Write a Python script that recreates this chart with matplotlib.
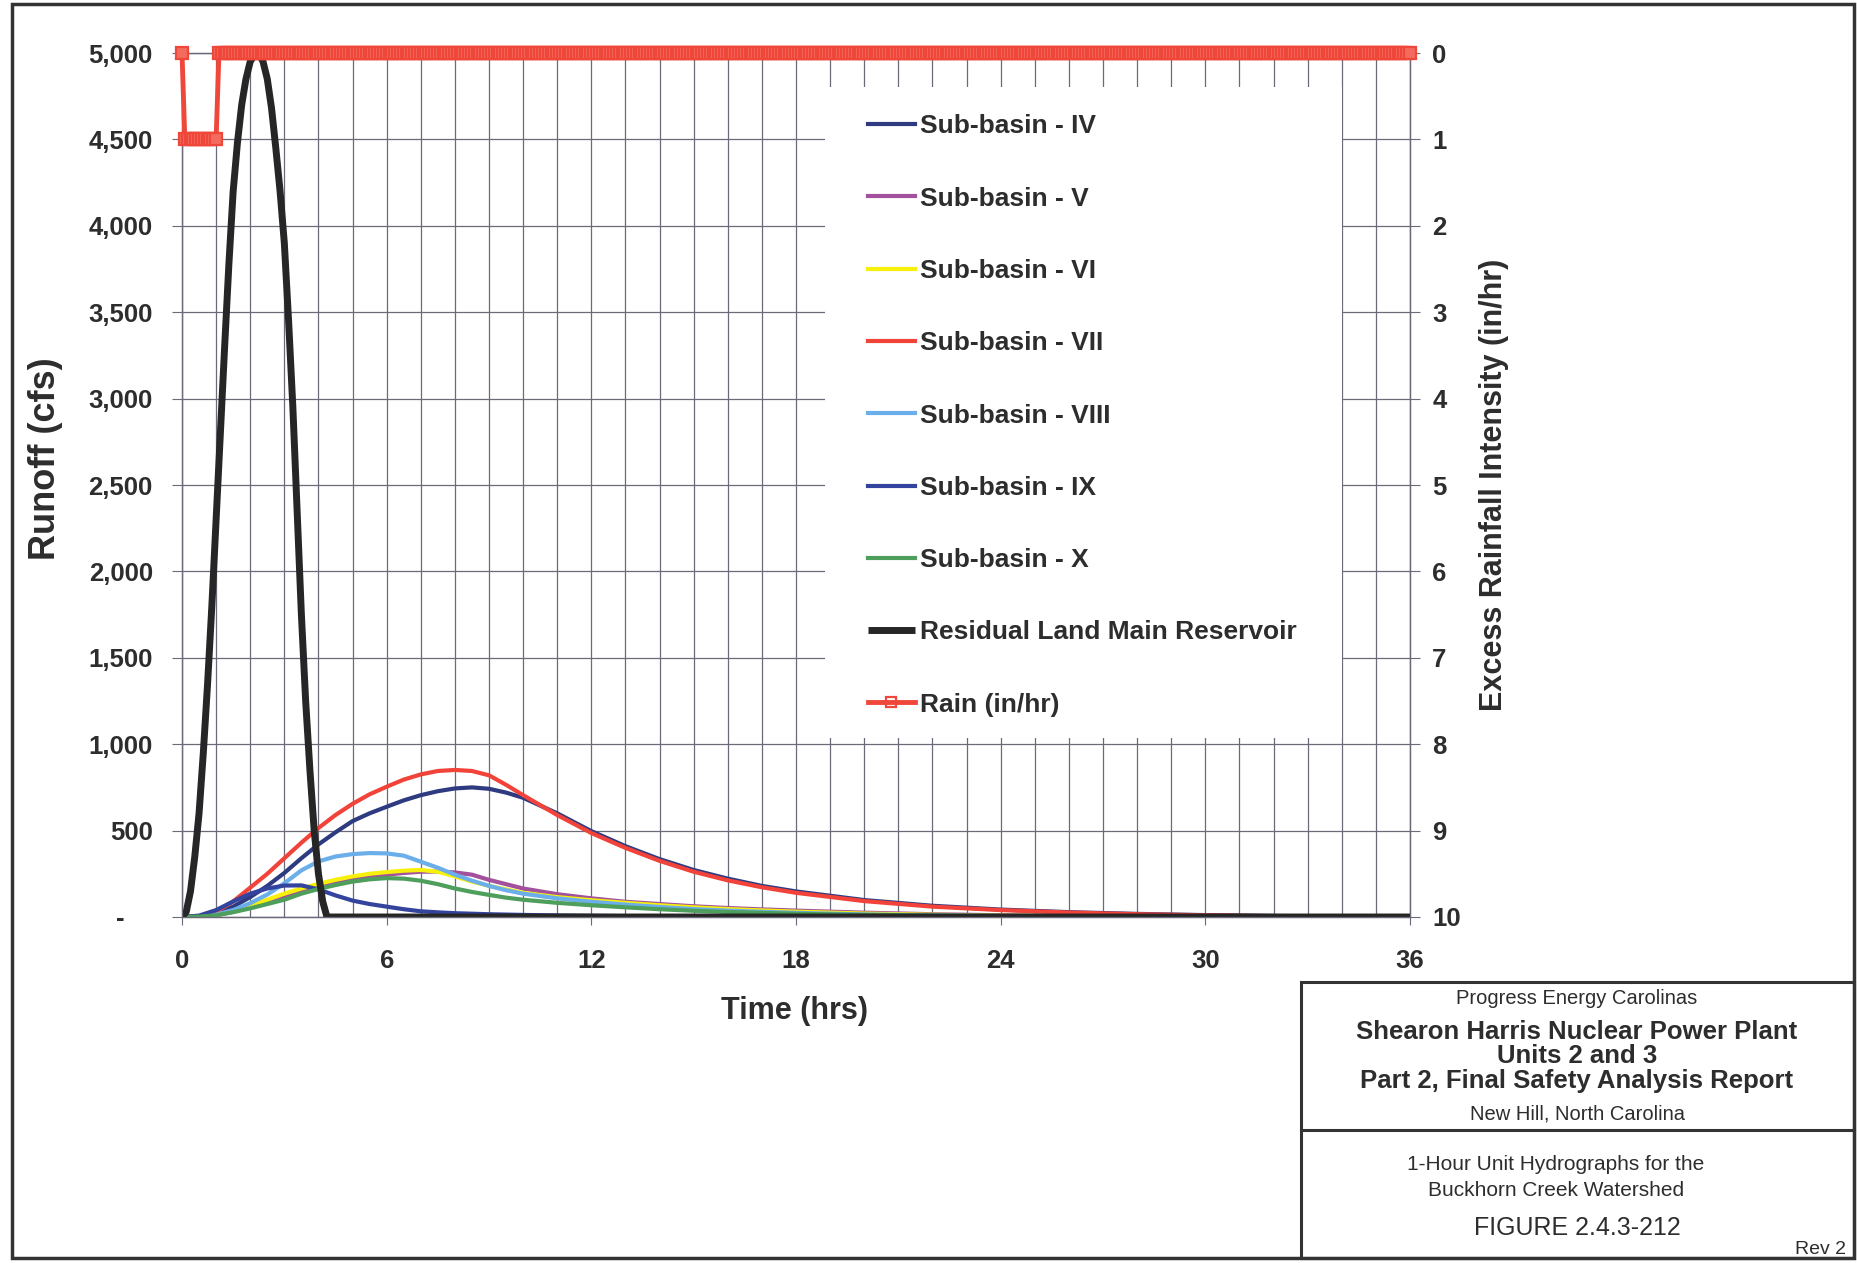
import numpy as np
import matplotlib.pyplot as plt
from matplotlib.patches import Rectangle
from matplotlib.ticker import MultipleLocator
from matplotlib.lines import Line2D

plt.rcParams['font.family'] = ['Liberation Sans', 'DejaVu Sans']

# --- unit hydrograph ordinates (cfs) ---
hrs = [0, 0.5, 1, 1.5, 2, 2.5, 3, 3.5, 4, 4.5, 5, 5.5, 6, 6.5, 7, 7.5, 8, 8.5, 9, 9.5,
       10, 11, 12, 13, 14, 15, 16, 17, 18, 20, 22, 24, 26, 28, 30, 32, 34, 36]
sub_iv = [0, 3, 20, 60, 115, 180, 255, 340, 420, 490, 555, 600, 638, 675, 705, 728, 744, 750, 742, 720,
          690, 600, 497, 410, 335, 272, 222, 180, 148, 98, 65, 43, 28, 18, 11, 6, 3, 1]
sub_v = [0, 2, 10, 30, 58, 90, 120, 147, 172, 195, 215, 232, 245, 255, 262, 263, 258, 245, 215, 190,
         165, 132, 108, 88, 75, 62, 52, 44, 37, 25, 16, 10, 6, 4, 2, 1, 0, 0]
sub_vi = [0, 2, 12, 35, 65, 100, 135, 165, 192, 215, 235, 250, 260, 268, 272, 262, 235, 205, 180, 160,
          140, 115, 97, 82, 68, 56, 46, 38, 31, 20, 13, 8, 5, 3, 2, 1, 0, 0]
sub_vii = [0, 5, 30, 90, 170, 250, 340, 430, 515, 590, 655, 710, 754, 795, 825, 845, 851, 845, 820, 765,
           705, 590, 486, 400, 325, 262, 212, 172, 140, 92, 60, 40, 26, 16, 10, 5, 2, 0]
sub_viii = [0, 3, 14, 40, 80, 130, 195, 270, 322, 350, 364, 370, 368, 355, 320, 285, 245, 210, 180, 155,
            135, 108, 88, 72, 58, 46, 37, 30, 24, 15, 10, 6, 4, 2, 1, 0, 0, 0]
sub_ix = [0, 8, 40, 90, 135, 165, 182, 183, 160, 125, 95, 75, 60, 45, 33, 27, 22, 19, 16, 14,
          12, 9, 7, 5, 4, 3, 2, 2, 1, 1, 0, 0, 0, 0, 0, 0, 0, 0]
sub_x = [0, 2, 10, 28, 50, 75, 100, 135, 162, 185, 205, 218, 225, 222, 210, 190, 165, 145, 128, 112,
         100, 82, 68, 56, 45, 36, 29, 24, 19, 12, 8, 5, 3, 2, 1, 0, 0, 0]

res_hrs = [0, 0.125, 0.25, 0.375, 0.5, 0.625, 0.75, 0.875, 1.0, 1.125, 1.25, 1.375, 1.5, 1.625,
           1.75, 1.875, 2.0, 2.125, 2.25, 2.375, 2.5, 2.625, 2.75, 2.875, 3.0, 3.125, 3.25, 3.375,
           3.5, 3.625, 3.75, 3.875, 4.0, 4.125, 4.25, 36]
res_main = [0, 30, 150, 350, 600, 950, 1350, 1800, 2300, 2800, 3300, 3780, 4200, 4480,
            4700, 4850, 4950, 4990, 5000, 4950, 4850, 4680, 4450, 4200, 3900, 3450, 2950, 2350,
            1750, 1250, 850, 500, 250, 90, 0, 0]

# excess rainfall: 1 in/hr for the first hour, 5-minute steps
rain_step = 1 / 12
rain_hrs = np.arange(0, 36 + rain_step / 2, rain_step)
rain_in = np.zeros_like(rain_hrs)
rain_in[1:13] = 1.0

series = [
    ("Sub-basin - IV", sub_iv, "#2E3B80"),
    ("Sub-basin - V", sub_v, "#A3519C"),
    ("Sub-basin - VI", sub_vi, "#F7F00A"),
    ("Sub-basin - VII", sub_vii, "#F2433A"),
    ("Sub-basin - VIII", sub_viii, "#6AAEEA"),
    ("Sub-basin - IX", sub_ix, "#34449E"),
    ("Sub-basin - X", sub_x, "#4E9E5C"),
]

runoff_ticks = list(range(0, 5001, 500))
runoff_labels = ["-    "] + [f"{v:,}" for v in runoff_ticks[1:]]
rain_ticks = list(range(0, 11))
time_ticks = [0, 6, 12, 18, 24, 30, 36]

txt = "#2d2d2d"
grid_c = "#6a6a78"
W, H = 1858, 1263

fig = plt.figure(figsize=(W / 100, H / 100), dpi=100)
ax = fig.add_axes([182 / W, 1 - 917 / H, 1228 / W, 864 / H])

handles = []
for name, vals, col in series:
    h, = ax.plot(hrs, vals, color=col, lw=3, label=name, zorder=3)
    handles.append(h)
h, = ax.plot(res_hrs, res_main, color="#262626", lw=5, label="Residual Land Main Reservoir",
             zorder=4, solid_capstyle="butt")
handles.append(h)

ax.set_xlim(0, 36)
ax.set_ylim(0, 5000)
ax.set_xticks(time_ticks)
ax.xaxis.set_minor_locator(MultipleLocator(1))
ax.set_yticks(runoff_ticks)
ax.set_yticklabels(runoff_labels)
ax.set_axisbelow(True)
ax.grid(True, which="both", axis="x", color=grid_c, lw=0.9)
ax.grid(True, which="major", axis="y", color=grid_c, lw=0.9)
ax.tick_params(axis="x", which="major", length=6, pad=17, labelsize=18.5, color=grid_c, labelcolor=txt)
ax.tick_params(axis="x", which="minor", length=0)
ax.tick_params(axis="y", length=7, pad=14, labelsize=18.5, color=grid_c, labelcolor=txt)
for lab in ax.get_xticklabels() + ax.get_yticklabels():
    lab.set_fontweight("bold")
for sp in ax.spines.values():
    sp.set_color(grid_c)
    sp.set_linewidth(0.9)

ax.set_xlabel("Time (hrs)", fontsize=22, fontweight="bold", color=txt)
ax.xaxis.set_label_coords(0.499, -0.091)
ax.set_ylabel("Runoff (cfs)", fontsize=26, fontweight="bold", color=txt)
ax.yaxis.set_label_coords(-0.097, 0.53)

# white panel behind the legend hides the grid
ax.add_patch(Rectangle((0.524, 0.207), 0.421, 0.754, transform=ax.transAxes,
                       facecolor="white", edgecolor="none", zorder=1))

ax2 = ax.twinx()
h, = ax2.plot(rain_hrs, rain_in, color="#F0473B", lw=3.5, marker="s", ms=8.5, mfc="#F46A5F",
              mec="#F0473B", mew=1.6, label="Rain (in/hr)", clip_on=False, zorder=5)
handles.append(h)
ax2.set_ylim(10, 0)
ax2.set_yticks(rain_ticks)
ax2.tick_params(axis="y", length=7, pad=9, labelsize=18.5, color=grid_c, labelcolor=txt)
for lab in ax2.get_yticklabels():
    lab.set_fontweight("bold")
for sp in ax2.spines.values():
    sp.set_color(grid_c)
    sp.set_linewidth(0.9)
ax2.set_ylabel("Excess Rainfall Intensity (in/hr)", fontsize=22, fontweight="bold", color=txt)
ax2.yaxis.set_label_coords(1.056, 0.5)

leg = ax2.legend(handles=handles, loc="upper left", bbox_to_anchor=(0.5586, 0.929),
                 frameon=False, borderpad=0, borderaxespad=0, handlelength=1.77,
                 handletextpad=0.2, labelspacing=1.83, markerscale=0.85,
                 prop={"size": 19, "weight": "bold"})
for t in leg.get_texts():
    t.set_color(txt)
leg.get_lines()[-1].set_markerfacecolor("none")


def fx(x):
    return x / W


def fy(y):
    return 1 - y / H


# outer frame and title block
fig.add_artist(Rectangle((fx(12), fy(1258)), fx(1854) - fx(12), fy(4) - fy(1258),
                         transform=fig.transFigure, fill=False, ec="#333333", lw=2.5))
fig.add_artist(Rectangle((fx(1301), fy(1258)), fx(1854) - fx(1301), fy(982) - fy(1258),
                         transform=fig.transFigure, fill=False, ec="#333333", lw=2.2))
fig.add_artist(Line2D([fx(1301), fx(1854)], [fy(1130), fy(1130)],
                      transform=fig.transFigure, color="#333333", lw=2.2))

cx = fx(1577)
cx2 = fx(1556)
fig.text(cx, fy(998), "Progress Energy Carolinas", ha="center", va="center", fontsize=14.5, color=txt)
fig.text(cx, fy(1032), "Shearon Harris Nuclear Power Plant", ha="center", va="center",
         fontsize=18.5, fontweight="bold", color=txt)
fig.text(cx, fy(1056), "Units 2 and 3", ha="center", va="center",
         fontsize=18.5, fontweight="bold", color=txt)
fig.text(cx, fy(1081), "Part 2, Final Safety Analysis Report", ha="center", va="center",
         fontsize=18.5, fontweight="bold", color=txt)
fig.text(cx, fy(1114), "New Hill, North Carolina", ha="center", va="center", fontsize=14.5, color=txt)
fig.text(cx2, fy(1164), "1-Hour Unit Hydrographs for the", ha="center", va="center",
         fontsize=15, color=txt)
fig.text(cx2, fy(1190), "Buckhorn Creek Watershed", ha="center", va="center", fontsize=15, color=txt)
fig.text(cx, fy(1228), "FIGURE 2.4.3-212", ha="center", va="center", fontsize=18, color=txt)
fig.text(fx(1846), fy(1249), "Rev 2", ha="right", va="center", fontsize=14, color=txt)

fig.savefig("out.png", dpi=100, facecolor="white")
